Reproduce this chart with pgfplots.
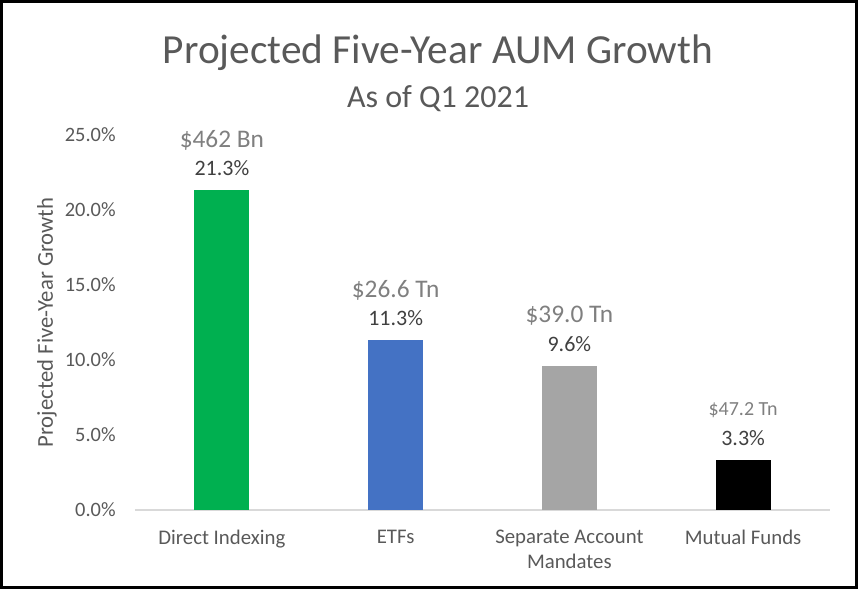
\documentclass[border=0pt]{standalone}
\usepackage{pgfplots}
\pgfplotsset{compat=1.18}
\usepackage{fontspec}
\setmainfont{Carlito}

\definecolor{barGreen}{HTML}{00B050}
\definecolor{barBlue}{HTML}{4472C4}
\definecolor{barGray}{HTML}{A5A5A5}
\definecolor{txtGray}{HTML}{595959}
\definecolor{valGray}{HTML}{404040}
\definecolor{amtGray}{HTML}{7F7F7F}
\definecolor{axGray}{HTML}{D9D9D9}

\begin{document}
\begin{tikzpicture}[x=0.75pt,y=0.75pt]
  % outer frame, picture is 858 x 589 px
  \draw[line width=2.25pt] (1.5,1.5) rectangle (856.5,587.5);

  \node[text=txtGray, font=\fontsize{31}{35}\selectfont] at (438,536) {Projected Five-Year AUM Growth};
  \node[text=txtGray, font=\fontsize{24}{28}\selectfont] at (438,490) {As of Q1 2021};

  \begin{axis}[
    at={(101.25pt,59.25pt)}, anchor=south west,
    width=521.25pt, height=281.25pt, scale only axis,
    clip=false,
    xmin=-0.5, xmax=3.5,
    ymin=0, ymax=25,
    axis x line*=bottom, axis y line*=left,
    x axis line style={draw=axGray, line width=1pt, -},
    y axis line style={draw=none},
    major tick length=0pt,
    xtick={0,1,2,3},
    xticklabels={Direct Indexing, ETFs, {Separate Account\\Mandates}, Mutual Funds},
    xticklabel style={align=center, text=txtGray, font=\fontsize{15.6}{19}\selectfont, anchor=north, yshift=-11.5pt},
    ytick={0,5,...,25},
    yticklabel={\pgfmathprintnumber[fixed,fixed zerofill,precision=1]{\tick}\%},
    yticklabel style={text=txtGray, font=\fontsize{15.3}{18}\selectfont, anchor=east, xshift=-11pt},
    /pgf/number format/assume math mode=true,
    ylabel={Projected Five-Year Growth},
    ylabel style={at={(axis description cs:-0.1266,0.5)}, anchor=center, text=txtGray, font=\fontsize{17}{20}\selectfont},
    every node near coord/.append style={anchor=center, yshift=16.5pt, text=valGray, font=\fontsize{16.5}{19}\selectfont},
    nodes near coords={\pgfmathprintnumber[fixed,fixed zerofill,precision=1]{\pgfplotspointmeta}\%},
  ]
    \addplot[ybar, bar width=41.25pt, bar shift=0pt, fill=barGreen, draw=none] coordinates {(0,21.3)};
    \addplot[ybar, bar width=41.25pt, bar shift=0pt, fill=barBlue, draw=none] coordinates {(1,11.3)};
    \addplot[ybar, bar width=41.25pt, bar shift=0pt, fill=barGray, draw=none] coordinates {(2,9.6)};
    \addplot[ybar, bar width=41.25pt, bar shift=0pt, fill=black, draw=none] coordinates {(3,3.3)};

    % asset amounts above the growth values
    \addplot[draw=none, mark=none, point meta=explicit symbolic,
      nodes near coords={\pgfplotspointmeta},
      every node near coord/.append style={yshift=21pt, text=amtGray, font=\fontsize{19}{22}\selectfont}]
      coordinates {(0,21.3) [\$462 Bn] (1,11.3) [\$26.6 Tn] (2,9.6) [\$39.0 Tn]};
    \addplot[draw=none, mark=none, point meta=explicit symbolic,
      nodes near coords={\pgfplotspointmeta},
      every node near coord/.append style={yshift=21pt, text=amtGray, font=\fontsize{15}{18}\selectfont}]
      coordinates {(3,3.3) [\$47.2 Tn]};
  \end{axis}
\end{tikzpicture}
\end{document}
